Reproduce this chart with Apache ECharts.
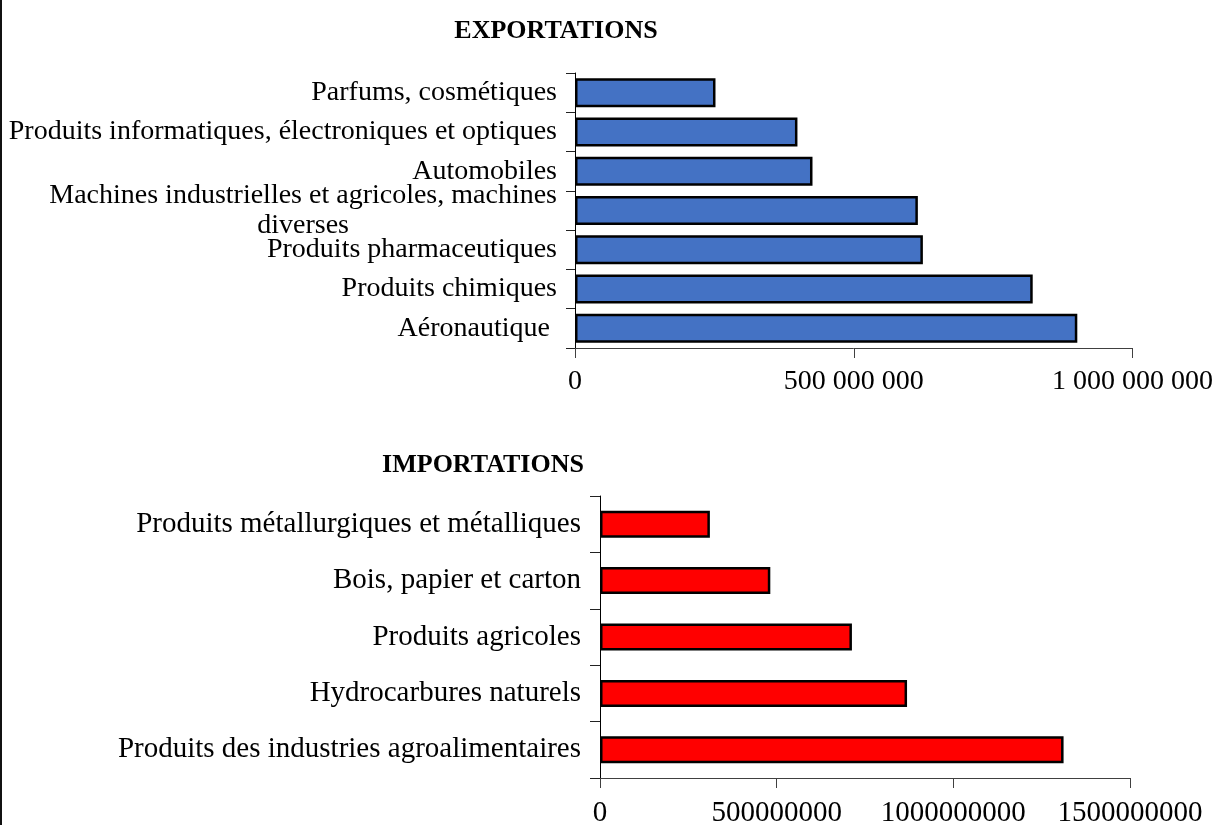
<!DOCTYPE html>
<html>
<head>
<meta charset="utf-8">
<script src="https://cdn.jsdelivr.net/npm/echarts@6/dist/echarts.min.js"></script>
<style>
html,body{margin:0;padding:0;background:#fff;}
#chart{width:1212px;height:825px;}
</style>
</head>
<body>
<div id="chart"></div>
<script>
// Exportations (top to bottom)
var exportCategories = [
  'Parfums, cosmétiques',
  'Produits informatiques, électroniques et optiques',
  'Automobiles',
  'Machines industrielles et agricoles, machines\ndiverses',
  'Produits pharmaceutiques',
  'Produits chimiques',
  'Aéronautique '
];
var exportValues = [252000000, 399000000, 426000000, 615000000, 624000000, 821000000, 901000000];
var exportTicks = [0, 500000000, 1000000000];

// Importations (top to bottom)
var importCategories = [
  'Produits métallurgiques et métalliques',
  'Bois, papier et carton',
  'Produits agricoles',
  'Hydrocarbures naturels',
  'Produits des industries agroalimentaires'
];
var importValues = [311000000, 482000000, 713000000, 869000000, 1312000000];
var importTicks = [0, 500000000, 1000000000, 1500000000];

var FONT = "'Liberation Serif', 'Times New Roman', serif";
var LBL_TOP = 28;
var LBL_BOT = 29;

function spaced(v) {
  return String(v).replace(/\B(?=(\d{3})+(?!\d))/g, ' ');
}

function catLabel(name) {
  if (name.indexOf('\n') < 0) return name;
  var parts = name.split('\n');
  return '{a|' + parts[0] + '}\n{b|' + parts[1] + '}';
}

var chart = echarts.init(document.getElementById('chart'), null, {renderer: 'canvas'});

var richTop = {
  a: {fontSize: LBL_TOP, fontFamily: FONT, color: '#000', align: 'right', lineHeight: 30},
  b: {fontSize: LBL_TOP, fontFamily: FONT, color: '#000', align: 'center', lineHeight: 30}
};

chart.setOption({
  backgroundColor: '#fff',
  animation: false,
  graphic: [{
    type: 'rect', left: 0, top: 0,
    shape: {x: 0, y: 0, width: 2, height: 825},
    style: {fill: '#111'}
  }],
  title: [
    {text: 'EXPORTATIONS', left: 551, top: 13, textAlign: 'center',
     textStyle: {fontFamily: FONT, fontSize: 26, fontWeight: 'bold', color: '#000'}},
    {text: 'IMPORTATIONS', left: 478, top: 447, textAlign: 'center',
     textStyle: {fontFamily: FONT, fontSize: 26, fontWeight: 'bold', color: '#000'}}
  ],
  grid: [
    {left: 575, right: 79.5, top: 73, bottom: 477, containLabel: false, outerBoundsMode: 'none'},
    {left: 600, right: 82, top: 496, bottom: 47, containLabel: false, outerBoundsMode: 'none'}
  ],
  xAxis: [
    {type: 'value', gridIndex: 0, min: exportTicks[0], max: exportTicks[exportTicks.length - 1], interval: exportTicks[1] - exportTicks[0],
     splitLine: {show: false},
     axisLine: {show: true, lineStyle: {color: '#404040', width: 1}},
     axisTick: {show: true, length: 10, lineStyle: {color: '#404040'}},
     axisLabel: {fontFamily: FONT, fontSize: LBL_TOP, color: '#000', margin: 20, formatter: function (v) { return spaced(v); }}},
    {type: 'value', gridIndex: 1, min: importTicks[0], max: importTicks[importTicks.length - 1], interval: importTicks[1] - importTicks[0],
     splitLine: {show: false},
     axisLine: {show: true, lineStyle: {color: '#404040', width: 1}},
     axisTick: {show: true, length: 10, lineStyle: {color: '#404040'}},
     axisLabel: {fontFamily: FONT, fontSize: LBL_BOT, color: '#000', margin: 21, formatter: function (v) { return String(v); }}}
  ],
  yAxis: [
    {type: 'category', gridIndex: 0, data: exportCategories, inverse: true,
     axisLine: {show: true, lineStyle: {color: '#000', width: 1}},
     axisTick: {show: true, length: 9, lineStyle: {color: '#222'}},
     axisLabel: {fontFamily: FONT, fontSize: LBL_TOP, color: '#000', margin: 18, lineHeight: 30,
                 formatter: catLabel, rich: richTop}},
    {type: 'category', gridIndex: 1, data: importCategories, inverse: true,
     axisLine: {show: true, lineStyle: {color: '#000', width: 1}},
     axisTick: {show: true, length: 10, lineStyle: {color: '#222'}},
     axisLabel: {fontFamily: FONT, fontSize: LBL_BOT, color: '#000', margin: 19,
                 formatter: catLabel}}
  ],
  series: [
    {type: 'bar', xAxisIndex: 0, yAxisIndex: 0, data: exportValues, barWidth: 29,
     itemStyle: {color: '#4472C4', borderColor: '#000', borderWidth: 2.5}},
    {type: 'bar', xAxisIndex: 1, yAxisIndex: 1, data: importValues, barWidth: 27,
     itemStyle: {color: '#FF0000', borderColor: '#000', borderWidth: 2.5}}
  ]
});
</script>
</body>
</html>
